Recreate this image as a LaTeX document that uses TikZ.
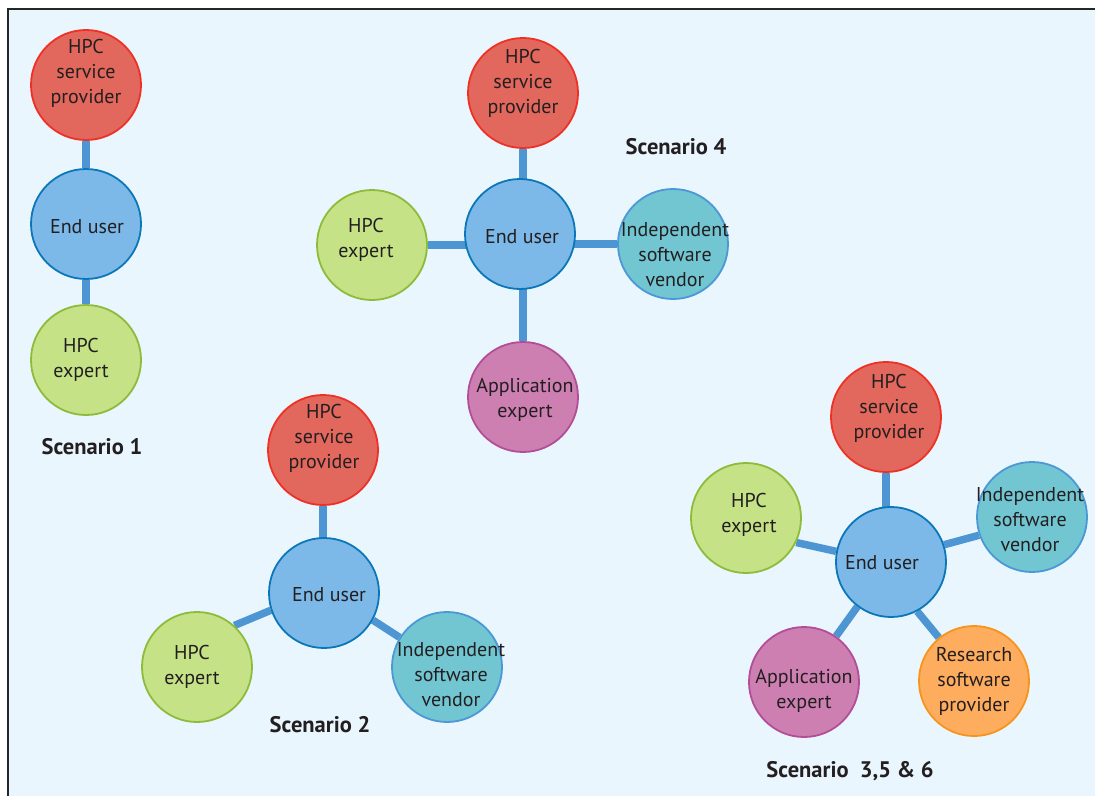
\documentclass[tikz,border=0pt]{standalone}
\usepackage{fontspec}
\setmainfont{PT Sans}
\pgfdeclarelayer{back}
\pgfdeclarelayer{lines}
\pgfsetlayers{back,lines,main}
\definecolor{bgblue}{RGB}{234,246,254}
\definecolor{spfill}{RGB}{226,103,92}
\definecolor{spdraw}{RGB}{238,49,36}
\definecolor{eufill}{RGB}{125,185,232}
\definecolor{eudraw}{RGB}{11,119,184}
\definecolor{hefill}{RGB}{197,226,135}
\definecolor{hedraw}{RGB}{141,187,58}
\definecolor{isvfill}{RGB}{114,198,210}
\definecolor{isvdraw}{RGB}{74,152,214}
\definecolor{appfill}{RGB}{205,127,178}
\definecolor{appdraw}{RGB}{180,77,151}
\definecolor{rspfill}{RGB}{254,173,95}
\definecolor{rspdraw}{RGB}{247,148,29}
\definecolor{linkc}{RGB}{77,150,211}
\definecolor{textc}{RGB}{35,31,32}
\tikzset{
  circ/.style={circle, minimum size=110pt, inner sep=0pt, line width=1.8pt},
  txt/.style={align=center, font=\fontsize{20}{25}\selectfont, text=textc, inner sep=0pt},
  sp/.style={circ, fill=spfill, draw=spdraw},
  eu/.style={circ, fill=eufill, draw=eudraw},
  he/.style={circ, fill=hefill, draw=hedraw},
  isv/.style={circ, fill=isvfill, draw=isvdraw},
  app/.style={circ, fill=appfill, draw=appdraw},
  rsp/.style={circ, fill=rspfill, draw=rspdraw},
  title/.style={font=\fontsize{22.5}{26}\selectfont\bfseries, text=textc, inner sep=0pt},
  link/.style={draw=linkc, line width=7.5pt}
}
\begin{document}
\begin{tikzpicture}[x=1pt, y=-1pt]
\useasboundingbox (0,0) rectangle (1095,796);
\begin{pgfonlayer}{back}
  \fill[white] (0,0) rectangle (1095,796);
  \fill[bgblue] (8,9) rectangle (1095,796);
  \draw[line width=1.3pt, black!85] (8,796) -- (8,9) -- (1095,9);
\end{pgfonlayer}

% Scenario 1
\node[sp, label={[txt, yshift=12pt]center:HPC\\service\\provider}] (sp1) at (86,85) {};
\node[eu, label={[txt, xshift=1pt, yshift=-3pt]center:End user}] (eu1) at (86,224) {};
\node[he, label={[txt, xshift=-5pt]center:HPC\\expert}] (he1) at (86,360) {};
\node[title] (t1) at (92,447) {Scenario 1};

% Scenario 4
\node[sp, label={[txt, yshift=10pt]center:HPC\\service\\provider}] (sp4) at (523,93) {};
\node[eu, label={[txt, xshift=2pt, yshift=-3pt]center:End user}] (eu4) at (520,234) {};
\node[he, label={[txt, xshift=-6pt, yshift=5pt]center:HPC\\expert}] (he4) at (372,245) {};
\node[isv, label={[txt, xshift=2pt, yshift=-11pt]center:Independent\\software\\vendor}] (isv4) at (673,244) {};
\node[app, label={[txt, xshift=2pt, yshift=-3pt]center:Application\\expert}] (app4) at (523,397) {};
\node[title] (t4) at (676,147) {Scenario 4};

% Scenario 2
\node[sp, label={[txt, xshift=1pt, yshift=12pt]center:HPC\\service\\provider}] (sp2) at (323,450) {};
\node[eu, label={[txt, xshift=5pt, yshift=-2pt]center:End user}] (eu2) at (324,593) {};
\node[he, label={[txt, xshift=-5pt]center:HPC\\expert}] (he2) at (197,667) {};
\node[isv, label={[txt, xshift=4pt, yshift=-8pt]center:Independent\\software\\vendor}] (isv2) at (447,667) {};
\node[title] (t2) at (320,725) {Scenario 2};

% Scenario 3, 5 & 6
\node[sp, label={[txt, xshift=3pt, yshift=9pt]center:HPC\\service\\provider}] (sp3) at (886,417) {};
\node[eu, label={[txt, xshift=-9pt, yshift=-1pt]center:End user}] (eu3) at (891,562) {};
\node[he, label={[txt, xshift=3pt, yshift=3pt]center:HPC\\expert}] (he3) at (746,518) {};
\node[isv, label={[txt, xshift=-2pt, yshift=-3pt]center:Independent\\software\\vendor}] (isv3) at (1032,517) {};
\node[app, label={[txt, yshift=-9pt]center:Application\\expert}] (app3) at (804,682) {};
\node[rsp, label={[txt]center:Research\\software\\provider}] (rsp3) at (974,681) {};
\node[title] (t3) at (850,771) {Scenario\hspace{0.5em}3,5 \& 6};

\begin{pgfonlayer}{lines}
  \draw[link] (sp1) -- (eu1) -- (he1);

  \draw[link] (sp4) -- (sp4 |- eu4);
  \draw[link] (app4) -- (app4 |- eu4);
  \draw[link] (he4) -- (he4 -| eu4);
  \draw[link] (isv4) -- (isv4 -| eu4);

  \draw[link] (sp2) -- (sp2 |- eu2);
  \draw[link] (he2.48) -- (eu2.198);
  \draw[link] (eu2.331) -- (isv2.148);

  \draw[link] (sp3) -- (sp3 |- eu3);
  \draw[link] (he3.334) -- (eu3.169.5);
  \draw[link] (eu3.18) -- (isv3.199);
  \draw[link] (eu3.233) -- (app3.55);
  \draw[link] (eu3.298) -- (rsp3.129);
\end{pgfonlayer}
\end{tikzpicture}
\end{document}
